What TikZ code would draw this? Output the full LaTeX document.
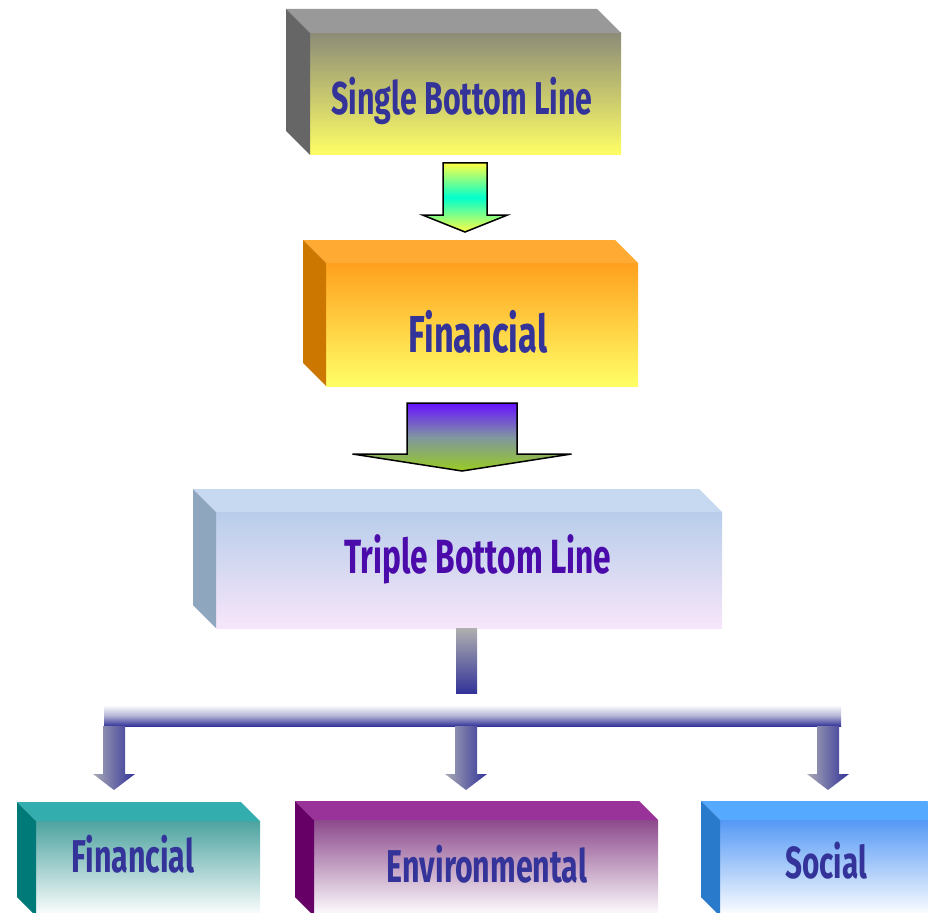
\documentclass[tikz,border=0pt]{standalone}
\usepackage{fontspec}
\newfontfamily\agency[FakeStretch=0.66]{Fira Sans}
\usetikzlibrary{calc}

\definecolor{txtblue}{HTML}{333399}
\definecolor{txtviolet}{HTML}{4B0AAA}
\definecolor{barblue}{HTML}{333399}
% box colours: front top, front bottom, top face, side face
\definecolor{sblA}{HTML}{8C8C78}\definecolor{sblB}{HTML}{FFFF66}\definecolor{sblT}{HTML}{999999}\definecolor{sblS}{HTML}{666666}
\definecolor{finA}{HTML}{FFA01E}\definecolor{finB}{HTML}{FFFF66}\definecolor{finT}{HTML}{FFAA33}\definecolor{finS}{HTML}{CC7700}
\definecolor{tblA}{HTML}{B8CDEA}\definecolor{tblB}{HTML}{F7E6FA}\definecolor{tblT}{HTML}{C6D9F0}\definecolor{tblS}{HTML}{8FA6BF}
\definecolor{ffinA}{HTML}{4DA3A0}\definecolor{ffinT}{HTML}{33ADAD}\definecolor{ffinS}{HTML}{007A78}
\definecolor{envA}{HTML}{8C4A8C}\definecolor{envT}{HTML}{993399}\definecolor{envS}{HTML}{660066}
\definecolor{socA}{HTML}{5599F5}\definecolor{socT}{HTML}{55AAFF}\definecolor{socS}{HTML}{2A7ACC}
% arrow colours
\definecolor{arYel}{HTML}{FFFF44}\definecolor{arCyan}{HTML}{00FFCC}
\definecolor{arViol}{HTML}{6611FF}\definecolor{arGrey}{HTML}{8096A0}\definecolor{arGreen}{HTML}{99CC22}
\definecolor{stemGrey}{HTML}{B0B0B0}\definecolor{barMid}{HTML}{B4B4D6}\definecolor{dnGrey}{HTML}{A9A9B5}

\def\fs#1{\fontsize{#1}{#1}\selectfont}
\def\cubefaces(#1)(#2)(#3:#4){%
	\fill[#3] (#1.north west) -- ++(-#2,-#2) -- ($(#1.north east)+(-#2,-#2)$) -- (#1.north east) -- cycle;
	\fill[#4] (#1.north west) -- ++(-#2,-#2) -- ($(#1.south west)+(-#2,-#2)$) -- (#1.south west) -- cycle;}
\def\blockarrow[#1](#2)(#3)(#4:#5:#6){%
	\shadedraw[#1] ($(#3|-#2)+(-#4,0)$) -- ($(#3|-#2)+(#4,0)$) -- ($(#3)+(#4,-#6)$) -- ($(#3)+(#5,-#6)$)
		-- (#3) -- ($(#3)+(-#5,-#6)$) -- ($(#3)+(-#4,-#6)$) -- cycle;}

\tikzset{
	front/.style={inner sep=0, outer sep=0, draw=none},
	label text/.style={font=\agency\bfseries, text=txtblue, anchor=base, inner sep=0},
	bigarrow/.style={draw=black, line width=1.5pt, line join=miter},
	downarrow/.style={draw=none, left color=dnGrey, right color=barblue}
}

\begin{document}
\begin{tikzpicture}[x=1pt, y=-1pt]
			%%%%% START %%%%%
			\useasboundingbox (0,0) rectangle (928,912);
			\clip (0,0) rectangle (928,912);
			
			\node[front, top color=sblA, bottom color=sblB, minimum width=311, minimum height=122] (sbl) at (465.5,94) {};
			\cubefaces(sbl)(24)(sblT:sblS)
			\node[label text, font=\agency\bfseries\fs{46}] (sbl-t) at (462,115) {Single Bottom Line};
			
			\node[front, top color=finA, bottom color=finB, minimum width=312, minimum height=123] (fin) at (482,324.5) {};
			\cubefaces(fin)(23)(finT:finS)
			\node[label text, font=\agency\bfseries\fs{52}] (fin-t) at (478,352) {Financial};
			
			\node[front, top color=tblA, bottom color=tblB, minimum width=506, minimum height=116] (tbl) at (469,570) {};
			\cubefaces(tbl)(23)(tblT:tblS)
			\node[label text, text=txtviolet, font=\agency\bfseries\fs{48}] (tbl-t) at (478,573) {Triple Bottom Line};
			
			% arrows between the top boxes
			\coordinate (a1s) at ($(sbl.south)+(0,8)$);
			\coordinate (a1e) at ($(fin.north)+(-17,-31)$);
			\blockarrow[bigarrow, top color=arYel, bottom color=arYel, middle color=arCyan](a1s)(a1e)(22:42.5:17)
			
			\coordinate (a2s) at ($(fin.south)+(0,17)$);
			\coordinate (a2e) at ($(tbl.north)+(-7,-41)$);
			\blockarrow[bigarrow, top color=arViol, bottom color=arGreen, middle color=arGrey](a2s)(a2e)(55:109.5:17)
			
			% stem and bar
			\node[front, top color=white, bottom color=barblue, middle color=barMid, minimum width=737, minimum height=21] (bar) at (472.5,715.5) {};
			\coordinate (stem) at ($(tbl.south)+(-2.5,0)$);
			\shade[top color=stemGrey, bottom color=barblue] ($(stem)+(-10.5,0)$) rectangle ($(stem|-bar.north)+(10.5,-12)$);
			
			% bottom row
			\node[front, top color=ffinA, bottom color=white, minimum width=224, minimum height=95] (ffin) at (148,868.5) {};
			\cubefaces(ffin)(19)(ffinT:ffinS)
			\node[label text, font=\agency\bfseries\fs{46}] (ffin-t) at (133,872) {Financial};
			
			\node[front, top color=envA, bottom color=white, minimum width=344, minimum height=96] (env) at (486,868) {};
			\cubefaces(env)(19)(envT:envS)
			\node[label text, font=\agency\bfseries\fs{46}] (env-t) at (487,882) {Environmental};
			
			\node[front, top color=socA, bottom color=white, minimum width=226, minimum height=96] (soc) at (833,868) {};
			\cubefaces(soc)(19)(socT:socS)
			\node[label text, font=\agency\bfseries\fs{45}] (soc-t) at (826,878) {Social};
			
			\coordinate (t1) at ($(ffin.north west)+(78,-31)$);
			\coordinate (t2) at ($(env.north west)+(152,-30)$);
			\coordinate (t3) at ($(soc.north west)+(108,-30)$);
			\foreach \t in {t1,t2,t3}{
				\blockarrow[downarrow](bar.south)(\t)(11:21:16)
			}
			%%%%% END %%%%%
\end{tikzpicture}
\end{document}
